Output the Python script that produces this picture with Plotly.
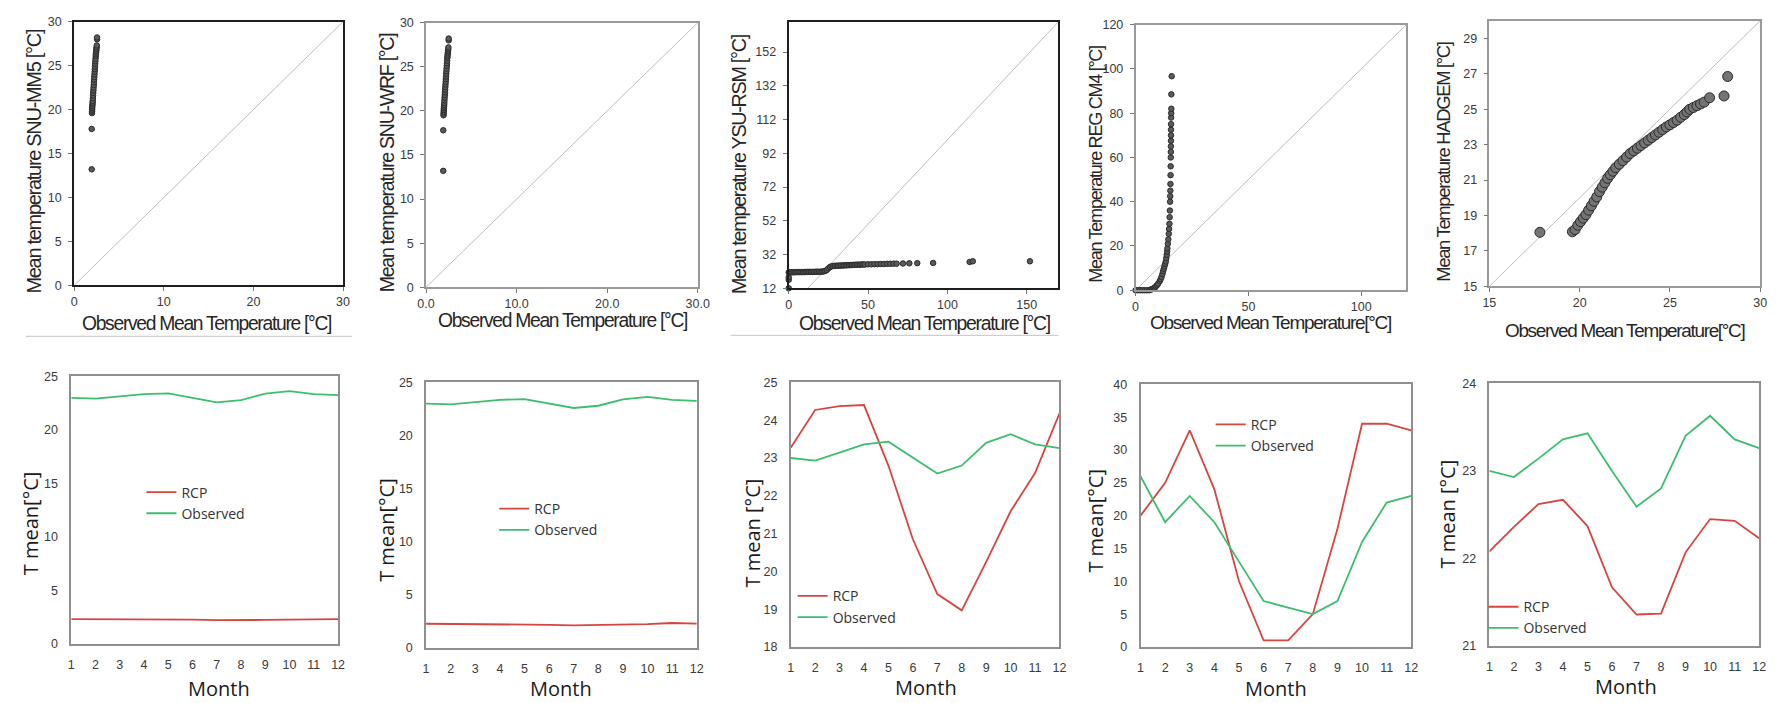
import plotly.graph_objects as go

W, H = 1784, 703

# ---------------- data ----------------
mm5_obs = [1.95, 1.95, 1.98, 1.99, 2.00, 2.01, 2.02, 2.04, 2.05, 2.07, 2.08, 2.10, 2.12, 2.14, 2.16,
           2.18, 2.20, 2.22, 2.24, 2.26, 2.28, 2.30, 2.32, 2.34, 2.36, 2.38, 2.40, 2.42, 2.44, 2.46,
           2.48, 2.50, 2.52, 2.55, 2.55]
mm5_mod = [13.2, 17.8, 19.6, 19.8, 20.0, 20.2, 20.4, 20.6, 20.8, 21.0, 21.3, 21.6, 21.9, 22.2, 22.5,
           22.8, 23.1, 23.4, 23.7, 24.0, 24.3, 24.6, 24.9, 25.2, 25.5, 25.8, 26.1, 26.3, 26.5, 26.7,
           26.9, 27.1, 27.3, 28.0, 28.2]

wrf_obs = [1.90, 1.90, 1.93, 1.94, 1.95, 1.96, 1.97, 1.99, 2.00, 2.02, 2.03, 2.05, 2.07, 2.09, 2.11,
           2.13, 2.15, 2.17, 2.19, 2.21, 2.23, 2.25, 2.27, 2.29, 2.31, 2.33, 2.35, 2.37, 2.39, 2.41,
           2.43, 2.45, 2.47, 2.50, 2.50]
wrf_mod = [13.2, 17.8, 19.5, 19.7, 19.9, 20.1, 20.3, 20.5, 20.7, 20.9, 21.2, 21.5, 21.8, 22.1, 22.4,
           22.7, 23.0, 23.3, 23.6, 23.9, 24.2, 24.5, 24.8, 25.1, 25.4, 25.7, 26.0, 26.2, 26.4, 26.6,
           26.8, 27.0, 27.2, 28.0, 28.2]

ysu_obs = [0, 0, 0, 0, 1, 2, 3, 4, 5, 6, 7, 8, 9, 10, 11, 12, 13, 14, 15, 16, 17, 18, 19, 20, 21, 22,
           23, 24, 25, 26, 27, 28, 29, 30, 31, 32, 33, 34, 35, 36, 37, 38, 39, 40, 41, 42, 43, 44, 45,
           46, 47, 48, 50, 52, 54, 56, 58, 60, 62, 64, 66, 68, 72, 76, 81, 91, 114, 116, 152]
ysu_mod = [12.0, 17.0, 18.5, 21.4, 21.5, 21.5, 21.5, 21.5, 21.6, 21.6, 21.6, 21.6, 21.6, 21.6, 21.7,
           21.7, 21.7, 21.7, 21.7, 21.7, 21.8, 21.8, 21.8, 21.8, 21.9, 22.0, 22.3, 22.8, 23.8, 24.6,
           25.0, 25.2, 25.3, 25.3, 25.4, 25.4, 25.5, 25.5, 25.6, 25.6, 25.7, 25.7, 25.8, 25.8, 25.9,
           25.9, 26.0, 26.0, 26.0, 26.1, 26.1, 26.1, 26.2, 26.2, 26.3, 26.3, 26.4, 26.4, 26.5, 26.5,
           26.6, 26.6, 26.7, 26.8, 26.9, 27.0, 27.6, 28.0, 28.0]

reg_obs = [0, 1, 2, 3, 4, 5, 6, 6.5, 7.0, 7.5, 8.0, 8.5, 9.0, 9.5, 10.0, 10.7, 11.1, 11.5, 11.9, 12.2,
           12.5, 12.8, 13.1, 13.4, 13.6, 13.8, 14.0, 14.1, 14.3, 14.5, 14.7, 14.85, 15.0, 15.1, 15.2,
           15.3, 15.35, 15.4, 15.45, 15.5, 15.55, 15.6, 15.62, 15.65, 15.68, 15.7, 15.7, 15.72, 15.75,
           15.8, 15.85, 15.85, 16.0]
reg_mod = [0, 0, 0, 0, 0, 0, 0, 0.2, 0.4, 0.6, 0.9, 1.2, 1.7, 2.3, 3.0, 4.1, 5.0, 6.0, 7.3, 8.6,
           9.7, 10.8, 11.9, 13.0, 14.5, 16.0, 17.5, 18.9, 21.0, 23.0, 25.5, 27.7, 30.0, 33.0, 36.0,
           40.0, 42.5, 45.0, 48.0, 52.0, 56.0, 60.0, 62.5, 65.0, 67.5, 70.0, 72.5, 75.0, 78.0,
           80.0, 82.0, 88.5, 96.7]

had_obs = [17.8, 19.6, 19.75, 19.9, 20.05, 20.2, 20.35, 20.5, 20.65, 20.8, 20.95, 21.1, 21.25, 21.4,
           21.55, 21.7, 21.85, 22.0, 22.2, 22.4, 22.6, 22.8, 23.0, 23.2, 23.4, 23.6, 23.8, 24.0, 24.2,
           24.4, 24.6, 24.8, 25.0, 25.2, 25.4, 25.6, 25.8, 25.95, 26.1, 26.3, 26.5, 26.7, 26.9, 27.2,
           28.0, 28.2]
had_mod = [18.05, 18.08, 18.2, 18.45, 18.65, 18.85, 19.05, 19.3, 19.55, 19.8, 20.05, 20.35, 20.6,
           20.85, 21.1, 21.3, 21.5, 21.7, 21.9, 22.1, 22.3, 22.5, 22.65, 22.8, 22.95, 23.1, 23.25,
           23.4, 23.55, 23.7, 23.85, 24.0, 24.12, 24.25, 24.38, 24.55, 24.7, 24.85, 25.0, 25.1, 25.2,
           25.3, 25.4, 25.65, 25.75, 26.85]

diag_mm5 = [0, 30]
diag_wrf = [0, 30]
diag_ysu = [12, 170]
diag_reg = [0, 120]
diag_had = [15, 30]

months = [1, 2, 3, 4, 5, 6, 7, 8, 9, 10, 11, 12]
observed = [23.0, 22.93, 23.14, 23.36, 23.43, 23.0, 22.59, 22.8, 23.4, 23.63, 23.36, 23.26]
rcp_mm5 = [2.33, 2.33, 2.33, 2.33, 2.32, 2.28, 2.23, 2.22, 2.25, 2.28, 2.32, 2.33]
rcp_wrf = [2.28, 2.27, 2.25, 2.22, 2.21, 2.18, 2.13, 2.15, 2.20, 2.25, 2.35, 2.30]
rcp_ysu = [23.27, 24.27, 24.37, 24.40, 22.8, 20.85, 19.40, 18.97, 20.25, 21.59, 22.6, 24.18]
rcp_reg = [20, 25, 33, 24, 10, 1, 1, 5, 18, 34, 34, 33]
obs_reg = [26, 19, 23, 19, 13, 7, 6, 5, 7, 16, 22, 23]
rcp_had = [22.08, 22.36, 22.62, 22.67, 22.37, 21.67, 21.36, 21.37, 22.07, 22.45, 22.43, 22.23]

# ---------------- helpers ----------------
def fx(px):
    return px / W

def fy(py):
    return 1 - py / H

SANS = "Liberation Sans, Arial, sans-serif"
CAL = "Open Sans, Noto Sans, sans-serif"
RED = "#d8443f"
GREEN = "#3dbd6e"
SQUEEZE = "letter-spacing:-1.3px;"   # emulate the condensed title face


def squeezed(txt):
    return f'<span style="{SQUEEZE}">{txt}</span>'


fig = go.Figure()
layout = dict(width=W, height=H, margin=dict(l=0, r=0, t=0, b=0),
              paper_bgcolor="white", plot_bgcolor="white", showlegend=True)
annotations = []
shapes = []

top_panels = [
    dict(box=(66, 338, 15, 284), obs=mm5_obs, mod=mm5_mod, diag=diag_mm5,
         xr=[0, 30], xt=[0, 10, 20, 30], xtt=["0", "10", "20", "30"],
         yr=[0, 30], yt=[0, 5, 10, 15, 20, 25, 30],
         line=("#1e1e1e", 2), msize=5.5, mcol="#5a5a5a",
         xtitle=("Observed Mean Temperature [°C]", 200, 323, 19.3),
         ytitle=("Mean temperature SNU-MM5 [°C]", 25, 158, 20.0)),
    dict(box=(422, 697, 16, 286), obs=wrf_obs, mod=wrf_mod, diag=diag_wrf,
         xr=[0, 30], xt=[0, 10, 20, 30], xtt=["0.0", "10.0", "20.0", "30.0"],
         yr=[0, 30], yt=[0, 5, 10, 15, 20, 25, 30],
         line=("#999999", 1.5), msize=5.5, mcol="#5a5a5a",
         xtitle=("Observed Mean Temperature [°C]", 560, 320, 19.3),
         ytitle=("Mean temperature SNU-WRF [°C]", 382, 159, 19.6)),
    dict(box=(789, 1062, 15, 287), obs=ysu_obs, mod=ysu_mod, diag=diag_ysu,
         xr=[0, 170], xt=[0, 50, 100, 150], xtt=["0", "50", "100", "150"],
         yr=[12, 170], yt=[12, 32, 52, 72, 92, 112, 132, 152],
         line=("#1e1e1e", 2), msize=5.5, mcol="#5a5a5a",
         xtitle=("Observed Mean Temperature [°C]", 926, 322, 19.4),
         ytitle=("Mean temperature YSU-RSM [°C]", 739, 160, 19.8)),
    dict(box=(1140, 1414, 18, 289), obs=reg_obs, mod=reg_mod, diag=diag_reg,
         xr=[0, 120], xt=[0, 50, 100], xtt=["0", "50", "100"],
         yr=[0, 120], yt=[0, 20, 40, 60, 80, 100, 120],
         line=("#999999", 1.5), msize=5.5, mcol="#5a5a5a",
         xtitle=("Observed Mean Temperature[°C]", 1277, 322, 19.0),
         ytitle=("Mean Temperature REG CM4 [°C]", 1100, 161, 18.1)),
    dict(box=(1498, 1772, 14, 285), obs=had_obs, mod=had_mod, diag=diag_had,
         xr=[15, 30], xt=[15, 20, 25, 30], xtt=["15", "20", "25", "30"],
         yr=[15, 30], yt=[15, 17, 19, 21, 23, 25, 27, 29],
         line=("#999999", 1.5), msize=10, mcol="#747474",
         xtitle=("Observed Mean Temperature[°C]", 1635, 330, 18.9),
         ytitle=("Mean Temperature HADGEM [°C]", 1452, 158, 18.4)),
]

bottom_panels = [
    dict(box=(63, 333, 377, 650), rcp=rcp_mm5, obs=observed, yr=[0, 25], yt=[0, 5, 10, 15, 20, 25],
         ytitle=("T mean[°C]", 22, 527), month=(212, 695), leg=(134, 479)),
    dict(box=(422, 696, 383, 654), rcp=rcp_wrf, obs=observed, yr=[0, 25], yt=[0, 5, 10, 15, 20, 25],
         ytitle=("T mean[°C]", 382, 534), month=(559, 695), leg=(491, 496)),
    dict(box=(791, 1063, 383, 653), rcp=rcp_ysu, obs=observed, yr=[18, 25],
         yt=[18, 19, 20, 21, 22, 23, 24, 25],
         ytitle=("T mean [°C]", 752, 537), month=(928, 694), leg=(793, 585)),
    dict(box=(1145, 1419, 385, 653), rcp=rcp_reg, obs=obs_reg, yr=[0, 40],
         yt=[0, 5, 10, 15, 20, 25, 30, 35, 40],
         ytitle=("T mean[°C]", 1100, 524), month=(1282, 695), leg=(1216, 410)),
    dict(box=(1498, 1771, 384, 652), rcp=rcp_had, obs=observed, yr=[21, 24], yt=[21, 22, 23, 24],
         ytitle=("T mean [°C]", 1456, 517), month=(1636, 693), leg=(1492, 596)),
]

idx = 0
for p in top_panels:
    idx += 1
    xa, ya = f"x{idx}", f"y{idx}"
    l, r, t, b = p["box"]
    lc, lw = p["line"]
    layout[f"xaxis{idx}"] = dict(domain=[fx(l), fx(r)], anchor=ya, range=p["xr"],
                                 tickvals=p["xt"], ticktext=p["xtt"], showgrid=False, zeroline=False,
                                 showline=True, mirror=True, linecolor=lc, linewidth=lw,
                                 ticks="outside", ticklen=4, tickcolor="#777", tickwidth=1,
                                 tickfont=dict(family=SANS, size=12.5, color="#3a3a3a"))
    layout[f"yaxis{idx}"] = dict(domain=[fy(b), fy(t)], anchor=xa, range=p["yr"],
                                 tickvals=p["yt"], showgrid=False, zeroline=False,
                                 showline=True, mirror=True, linecolor=lc, linewidth=lw,
                                 ticks="outside", ticklen=4, tickcolor="#777", tickwidth=1,
                                 ticklabelstandoff=4,
                                 tickfont=dict(family=SANS, size=12.5, color="#3a3a3a"))
    fig.add_trace(go.Scatter(x=p["diag"], y=p["diag"], mode="lines", xaxis=xa, yaxis=ya,
                             line=dict(color="#bdbdbd", width=1), showlegend=False,
                             hoverinfo="skip"))
    fig.add_trace(go.Scatter(x=p["obs"], y=p["mod"], mode="markers", xaxis=xa, yaxis=ya,
                             marker=dict(size=p["msize"], color=p["mcol"],
                                         line=dict(color="#2a2a2a", width=1)),
                             showlegend=False, cliponaxis=False))
    txt, cx, cy, fs = p["xtitle"]
    annotations.append(dict(text=squeezed(txt), x=fx(cx), y=fy(cy), xref="paper", yref="paper",
                            showarrow=False, xanchor="center", yanchor="middle",
                            font=dict(family=SANS, size=fs, color="#262626")))
    txt, cx, cy, fs = p["ytitle"]
    annotations.append(dict(text=squeezed(txt), x=fx(cx), y=fy(cy), xref="paper", yref="paper",
                            showarrow=False, xanchor="center", yanchor="middle", textangle=-90,
                            font=dict(family=SANS, size=fs, color="#262626")))

for k, p in enumerate(bottom_panels):
    idx += 1
    xa, ya = f"x{idx}", f"y{idx}"
    l, r, t, b = p["box"]
    legname = "legend" if k == 0 else f"legend{k + 1}"
    layout[f"xaxis{idx}"] = dict(domain=[fx(l), fx(r)], anchor=ya, range=[1, 12],
                                 tickvals=months, showgrid=False, zeroline=False,
                                 showline=True, mirror=True, linecolor="#8f8f8f", linewidth=1.5,
                                 ticks="", ticklabelstandoff=8,
                                 tickfont=dict(family=SANS, size=12.5, color="#3a3a3a"))
    layout[f"yaxis{idx}"] = dict(domain=[fy(b), fy(t)], anchor=xa, range=p["yr"],
                                 tickvals=p["yt"], showgrid=False, zeroline=False,
                                 showline=True, mirror=True, linecolor="#8f8f8f", linewidth=1.5,
                                 ticks="", ticklabelstandoff=9,
                                 tickfont=dict(family=SANS, size=12.5, color="#3a3a3a"))
    fig.add_trace(go.Scatter(x=months, y=p["rcp"], mode="lines", name="RCP", xaxis=xa, yaxis=ya,
                             line=dict(color=RED, width=1.8), legend=legname))
    fig.add_trace(go.Scatter(x=months, y=p["obs"], mode="lines", name="Observed", xaxis=xa,
                             yaxis=ya, line=dict(color=GREEN, width=1.8), legend=legname))
    lx, ly = p["leg"]
    layout[legname] = dict(x=fx(lx), y=fy(ly), xanchor="left", yanchor="top",
                           bgcolor="rgba(0,0,0,0)", borderwidth=0,
                           font=dict(family=CAL, size=14, color="#333333"))
    txt, cx, cy = p["ytitle"]
    annotations.append(dict(text=txt, x=fx(cx), y=fy(cy), xref="paper", yref="paper",
                            showarrow=False, xanchor="center", yanchor="middle", textangle=-90,
                            font=dict(family=CAL, size=20, color="#1a1a1a")))
    cx, cy = p["month"]
    annotations.append(dict(text="Month", x=fx(cx), y=fy(cy), xref="paper", yref="paper",
                            showarrow=False, xanchor="center", yanchor="middle",
                            font=dict(family=CAL, size=20, color="#1a1a1a")))

for (x0, x1, yy) in [(17, 347, 336), (730, 1062, 335)]:
    shapes.append(dict(type="line", xref="paper", yref="paper", x0=fx(x0), x1=fx(x1),
                       y0=fy(yy), y1=fy(yy), line=dict(color="#c4c4c4", width=1)))

layout["annotations"] = annotations
layout["shapes"] = shapes
fig.update_layout(**layout)
fig.write_html("out.html")
